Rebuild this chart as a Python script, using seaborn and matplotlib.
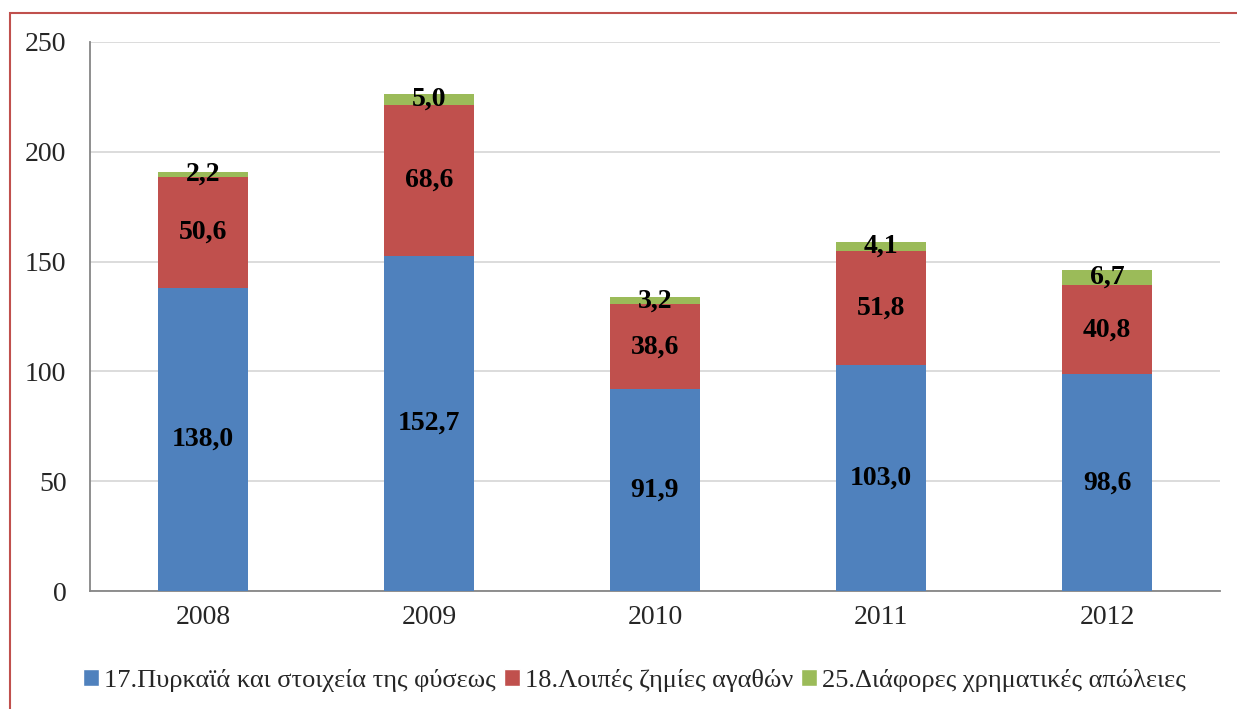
import numpy as np
import pandas as pd
import matplotlib
matplotlib.use("Agg")
import matplotlib.pyplot as plt
import seaborn as sns
from matplotlib.patches import Rectangle, Patch

years = ["2008", "2009", "2010", "2011", "2012"]
fire = [138.0, 152.7, 91.9, 103.0, 98.6]
other_damage = [50.6, 68.6, 38.6, 51.8, 40.8]
misc_loss = [2.2, 5.0, 3.2, 4.1, 6.7]
series_names = ["17.Πυρκαϊά και στοιχεία της φύσεως",
                "18.Λοιπές ζημίες αγαθών",
                "25.Διάφορες χρηματικές απώλειες"]
colors = ["#4F81BD", "#C0504D", "#9BBB59"]
yticks = [0, 50, 100, 150, 200, 250]

sns.set_style("white")
plt.rcParams['font.family'] = ['Liberation Serif', 'DejaVu Serif']

df = pd.DataFrame({"year": years, "fire": fire, "other": other_damage, "misc": misc_loss})

fig = plt.figure(figsize=(12.37, 7.09), dpi=100)
ax = fig.add_axes([0.0728, 0.1664, 0.9134, 0.7744])

bottoms = np.zeros(len(years))
for col, name, c in zip(["fire", "other", "misc"], series_names, colors):
    sns.barplot(data=df, x="year", y=col, bottom=bottoms, color=c, width=0.4,
                saturation=1, ax=ax, label=name, zorder=3, linewidth=0)
    cont = ax.containers[-1]
    ax.bar_label(cont, labels=[f"{v:.1f}".replace(".", ",") for v in df[col]],
                 label_type="center", fontsize=20, fontweight="bold", color="black")
    bottoms = bottoms + df[col].values

ax.set_ylim(0, 250)
ax.set_xlim(-0.5, 4.5)
ax.set_yticks(yticks)
ax.set_xticks(range(len(years)))
ax.set_xticklabels(years)
ax.set_xlabel("")
ax.set_ylabel("")
ax.tick_params(axis="both", labelsize=20, length=0, pad=10)
# minor ticks at category boundaries
ax.set_xticks(np.arange(-0.5, 5.0, 1.0), minor=True)
ax.tick_params(axis="x", which="minor", length=6, color="#868686", direction="out")
ax.yaxis.set_tick_params(length=7, color="#868686", direction="out", pad=10)
ax.grid(axis="y", color="#D9D9D9", linewidth=1.3, zorder=0)
ax.set_axisbelow(True)
for s in ["top", "right"]:
    ax.spines[s].set_visible(False)
for s in ["left", "bottom"]:
    ax.spines[s].set_color("#868686")
    ax.spines[s].set_linewidth(1.3)
if ax.get_legend():
    ax.get_legend().remove()

handles = [Patch(facecolor=c, label=n) for c, n in zip(colors, series_names)]
fig.legend(handles=handles, loc="center", bbox_to_anchor=(0.513, 0.04), ncol=3,
           frameon=False, fontsize=19, handlelength=0.6, handleheight=0.6,
           handletextpad=0.2, columnspacing=0.3)

# red outer frame (only top/left visible)
fig.patches.append(Rectangle((10 / 1237, -0.1), 1.2, 1 - 13 / 709 + 0.1,
                             transform=fig.transFigure, fill=False,
                             edgecolor="#C0504D", linewidth=1.5))

fig.savefig("out.png", dpi=100)
